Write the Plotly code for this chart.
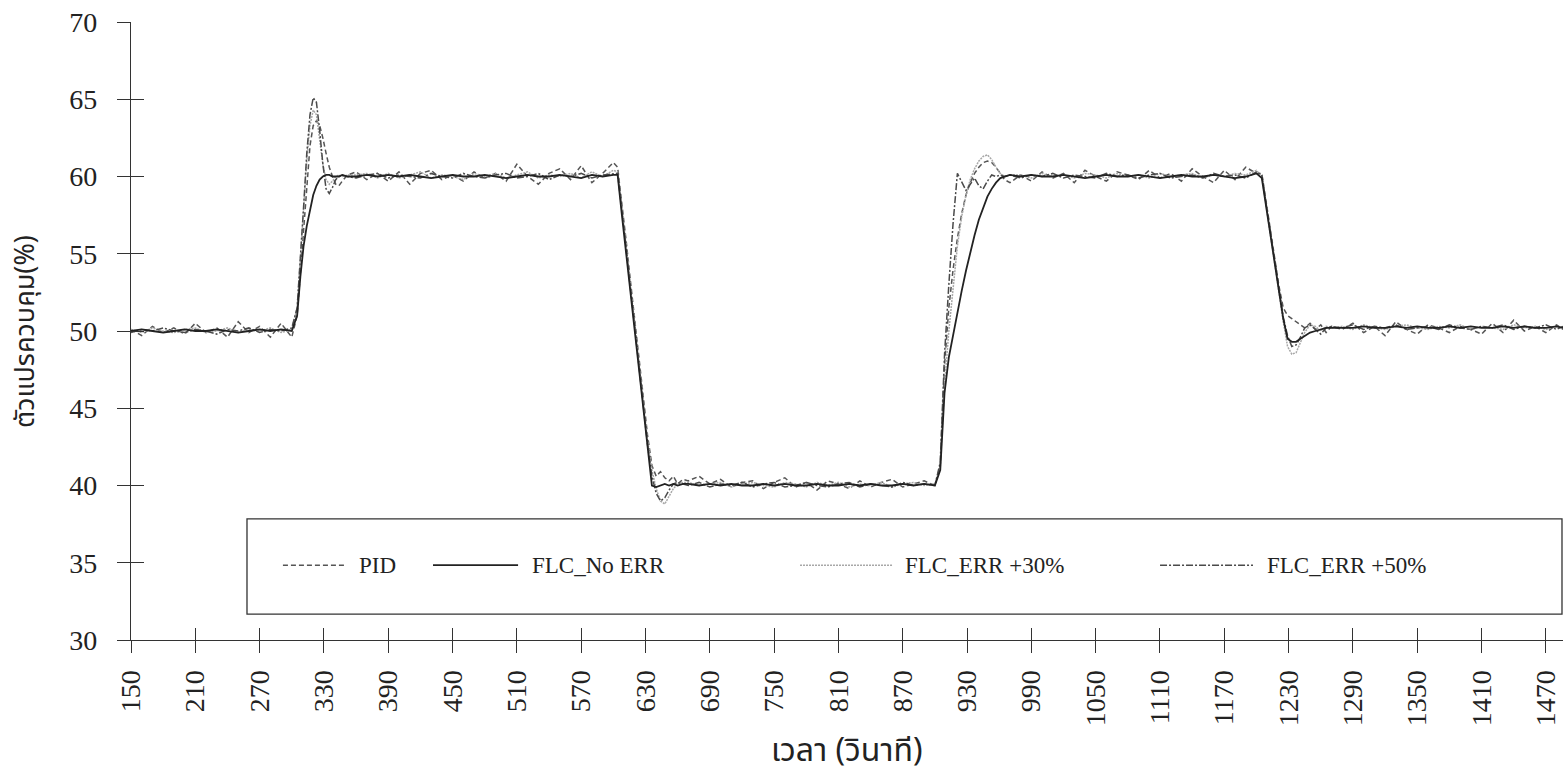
import plotly.graph_objects as go

# Time axis (seconds): coarse while holding a setpoint, finer around each step change
t_sec = [
    150, 160, 170, 180, 190, 200, 210, 220, 230, 240, 250, 260, 270, 280, 290, 300,
    305, 308, 311, 314, 317, 320, 323, 326, 329, 332, 335, 338, 341, 344, 347, 352,
    360, 370, 380, 390, 400, 410, 420, 430, 440, 450, 460, 470, 480, 490, 500, 510,
    520, 530, 540, 550, 560, 570, 580, 590, 600,
    604, 608, 612, 616, 620, 624, 628, 632, 636, 640, 644, 648, 652, 656, 660, 665,
    670, 680, 690, 700, 710, 720, 730, 740, 750, 760, 770, 780, 790, 800, 810, 820,
    830, 840, 850, 860, 870, 880, 890, 900,
    905, 909, 913, 917, 921, 925, 929, 933, 937, 941, 945, 949, 953, 957, 961, 965, 970,
    980, 990, 1000, 1010, 1020, 1030, 1040, 1050, 1060, 1070, 1080, 1090, 1100, 1110,
    1120, 1130, 1140, 1150, 1160, 1170, 1180, 1190, 1200,
    1205, 1209, 1213, 1217, 1221, 1225, 1229, 1233, 1237, 1241, 1245, 1250, 1255, 1260,
    1265, 1270,
    1280, 1290, 1300, 1310, 1320, 1330, 1340, 1350, 1360, 1370, 1380, 1390, 1400, 1410,
    1420, 1430, 1440, 1450, 1460, 1470, 1480, 1486,
]

pid = [
    50.1, 49.7, 50.3, 49.9, 50.2, 49.8, 50.5, 49.9, 50.2, 49.6, 50.6, 49.9, 50.3, 49.6, 50.5, 49.6,
    51.0, 53.8, 56.8, 59.8, 62.0, 63.3, 63.6, 63.3, 62.5, 61.5, 60.6, 60.0, 59.5, 59.4, 59.7, 60.1,
    60.3, 59.8, 60.2, 59.7, 60.3, 59.5, 60.2, 60.4, 59.8, 60.1, 59.7, 60.3, 59.9, 60.2, 59.7, 60.8,
    60.0, 59.5, 60.2, 60.5, 59.8, 60.7, 59.6, 60.2, 60.9,
    60.6, 58.3, 55.8, 53.2, 50.7, 48.1, 45.6, 43.2, 41.3, 40.6, 40.9, 40.5, 40.3, 40.6, 40.1, 40.4,
    40.3, 40.6, 40.1, 40.4, 39.9, 40.2, 40.3, 39.8, 40.2, 40.5, 39.9, 40.2, 39.7, 40.3, 40.1, 39.8,
    40.3, 39.9, 40.2, 40.4, 39.9, 40.1, 40.3, 40.0,
    41.3, 47.8, 51.5, 54.0, 56.0, 57.6, 58.8, 59.6, 60.2, 60.6, 60.9, 61.0, 60.9, 60.6, 60.2, 59.8, 59.6,
    60.1, 59.7, 60.3, 59.9, 60.2, 59.6, 60.4, 60.0, 59.7, 60.3, 60.1, 59.8, 60.4, 59.9,
    60.2, 59.7, 60.5, 60.0, 59.6, 60.4, 59.8, 60.6, 60.2,
    60.2, 58.3, 56.5, 54.7, 52.9, 51.5, 51.0, 50.8, 50.6, 50.4, 50.2, 50.5, 50.1, 50.4,
    49.9, 50.3,
    50.1, 50.5, 49.9, 50.3, 49.7, 50.6, 50.1, 49.8, 50.4, 50.2, 49.9, 50.3, 50.1, 49.8,
    50.5, 49.9, 50.7, 50.0, 50.3, 49.9, 50.4, 50.1,
]

flc_no_err = [
    50.0, 50.1, 50.0, 49.9, 50.0, 50.1, 50.0, 50.0, 50.1, 50.0, 49.9, 50.0, 50.1, 50.0, 50.1, 50.0,
    51.0, 53.5, 55.5, 56.8, 57.9, 58.8, 59.4, 59.8, 60.0, 60.1, 60.1, 60.0, 60.0, 60.0, 60.1, 60.0,
    60.0, 60.1, 60.0, 60.1, 60.0, 60.1, 60.0, 59.9, 60.0, 60.1, 60.0, 60.0, 60.1, 60.0, 59.9, 60.0,
    60.1, 60.0, 60.0, 60.1, 60.0, 59.9, 60.1, 60.0, 60.1,
    60.1, 57.5, 55.0, 52.4, 49.8, 47.3, 44.7, 42.2, 40.0, 39.9, 40.0, 40.1, 40.0, 40.1, 40.0, 40.1,
    40.1, 40.0, 40.1, 40.0, 40.1, 40.0, 40.0, 40.1, 40.0, 40.1, 40.0, 40.0, 40.1, 40.0, 40.0, 40.1,
    40.0, 40.1, 40.0, 40.0, 40.1, 40.0, 40.1, 40.0,
    41.0, 46.0, 48.3, 49.8, 51.2, 52.6, 53.9, 55.1, 56.2, 57.2, 58.0, 58.7, 59.2, 59.6, 59.9, 60.0, 60.1,
    60.0, 60.1, 60.0, 60.0, 60.1, 60.0, 59.9, 60.0, 60.1, 60.0, 60.0, 60.1, 60.0, 59.9,
    60.0, 60.1, 60.0, 60.0, 60.1, 60.0, 59.9, 60.0, 60.2,
    59.9, 58.0, 56.2, 54.4, 52.6, 50.8, 49.5, 49.3, 49.3, 49.5, 49.7, 49.9, 50.0, 50.1,
    50.2, 50.2,
    50.2, 50.2, 50.3, 50.2, 50.2, 50.3, 50.2, 50.3, 50.2, 50.2, 50.3, 50.2, 50.3, 50.2,
    50.2, 50.3, 50.2, 50.3, 50.2, 50.2, 50.3, 50.2,
]

flc_err_30 = [
    50.1, 49.9, 50.2, 50.0, 49.9, 50.1, 50.2, 49.9, 50.0, 50.2, 49.9, 50.1, 50.0, 50.2, 49.9, 50.1,
    51.5, 54.5, 58.0, 61.0, 63.3, 64.3, 64.0, 62.5, 60.8, 59.8, 59.5, 59.7, 60.0, 60.1, 60.0, 60.1,
    60.1, 60.2, 59.9, 60.2, 59.9, 60.1, 60.3, 59.9, 60.1, 60.0, 59.8, 60.2, 60.0, 60.2, 59.9, 60.1,
    60.3, 59.9, 60.1, 60.0, 60.2, 59.9, 60.3, 60.0, 60.4,
    60.3, 58.0, 55.5, 52.9, 50.4, 47.8, 45.3, 42.9, 41.0, 39.8, 39.0, 38.8, 39.3, 39.8, 40.1, 40.2,
    40.2, 40.0, 40.1, 40.2, 39.9, 40.1, 40.2, 40.0, 39.9, 40.2, 40.1, 39.9, 40.2, 40.0, 40.2, 39.9,
    40.1, 40.0, 40.2, 39.9, 40.1, 40.2, 40.0, 40.1,
    41.2, 46.5, 50.0, 53.0, 55.5, 57.4, 58.8, 59.8, 60.5, 61.0, 61.3, 61.4, 61.1, 60.6, 60.2, 60.0, 60.1,
    60.1, 59.9, 60.2, 60.0, 60.1, 59.9, 60.2, 60.1, 59.9, 60.2, 60.0, 60.1, 59.9, 60.2,
    60.0, 60.1, 60.2, 59.9, 60.1, 60.0, 60.2, 60.1, 60.4,
    60.0, 58.1, 56.3, 54.5, 52.7, 50.6, 49.0, 48.5, 48.6, 49.2, 49.9, 50.4, 50.3, 50.0,
    50.3, 50.2,
    50.3, 50.1, 50.4, 50.2, 50.1, 50.3, 50.4, 50.2, 50.1, 50.3, 50.2, 50.4, 50.1, 50.3,
    50.2, 50.1, 50.4, 50.2, 50.3, 50.1, 50.3, 50.2,
]

flc_err_50 = [
    49.9, 50.1, 50.0, 50.2, 50.0, 49.9, 50.1, 50.0, 49.8, 50.1, 50.0, 50.2, 49.9, 50.1, 50.0, 50.2,
    51.5, 54.5, 58.0, 61.5, 64.0, 65.1, 64.8, 63.0, 60.8, 59.2, 58.9, 59.3, 59.8, 60.0, 60.1, 60.0,
    59.9, 60.1, 60.2, 59.9, 60.1, 60.0, 59.9, 60.2, 60.0, 59.9, 60.2, 60.0, 59.9, 60.1, 60.2, 59.9,
    60.0, 60.2, 59.8, 60.1, 60.0, 60.2, 59.9, 60.1, 60.2,
    60.2, 57.8, 55.3, 52.7, 50.2, 47.6, 45.1, 42.6, 40.6, 39.5, 39.0, 39.2, 39.7, 40.1, 40.2, 40.1,
    40.0, 40.2, 39.9, 40.1, 40.0, 40.2, 39.9, 40.1, 40.2, 39.9, 40.0, 40.2, 40.0, 39.9, 40.1, 40.2,
    39.9, 40.1, 40.0, 39.9, 40.2, 40.0, 40.1, 40.0,
    41.5, 48.5, 53.0, 57.0, 60.2, 59.6, 59.1, 59.5, 59.9, 59.4, 59.2, 59.7, 60.1, 60.0, 60.1, 60.0, 60.1,
    59.9, 60.1, 60.0, 60.2, 59.9, 60.1, 60.0, 59.9, 60.2, 60.0, 60.1, 59.9, 60.1, 60.2,
    59.9, 60.0, 60.1, 59.9, 60.2, 60.0, 60.1, 59.9, 60.3,
    60.1, 58.2, 56.3, 54.5, 52.6, 50.9, 49.7, 49.0, 49.1, 49.6, 50.2, 50.4, 50.1, 49.8,
    50.2, 50.3,
    50.2, 50.4, 50.1, 50.3, 50.2, 50.4, 50.1, 50.2, 50.3, 50.1, 50.4, 50.2, 50.1, 50.3,
    50.2, 50.4, 50.1, 50.3, 50.2, 50.4, 50.1, 50.3,
]

series_names = ["PID", "FLC_No ERR", "FLC_ERR +30%", "FLC_ERR +50%"]
x_ticks = list(range(150, 1471, 60))
y_ticks = list(range(30, 71, 5))

SERIF = "Liberation Serif, Times New Roman, serif"
THAI = "Noto Sans Thai, Loma, Garuda, Tlwg Typo, Noto Sans, sans-serif"

styles = {
    "PID": dict(color="#555555", width=1.5, dash="5px,3px"),
    "FLC_No ERR": dict(color="#222222", width=1.8, dash="solid"),
    "FLC_ERR +30%": dict(color="#a8a8a8", width=1.5, dash="2px,1px"),
    "FLC_ERR +50%": dict(color="#4a4a4a", width=1.5, dash="7px,2px,2px,2px"),
}
values = {
    "PID": pid,
    "FLC_No ERR": flc_no_err,
    "FLC_ERR +30%": flc_err_30,
    "FLC_ERR +50%": flc_err_50,
}

fig = go.Figure()
# drawing order: dashed PID underneath, solid FLC on top
for name in ["PID", "FLC_ERR +30%", "FLC_ERR +50%", "FLC_No ERR"]:
    fig.add_trace(go.Scatter(
        x=t_sec, y=values[name], mode="lines", name=name,
        line=dict(**styles[name]), showlegend=False,
    ))

# empty trace so the overlay axes (inner half of the crossing ticks) are drawn
fig.add_trace(go.Scatter(x=[], y=[], xaxis="x2", yaxis="y2",
                         showlegend=False, hoverinfo="skip"))

x_range = [150, 1486]
y_range = [30, 70]
axis_col = "#333333"

fig.update_layout(
    width=1565, height=779,
    margin=dict(l=131, r=2, t=22, b=139),
    paper_bgcolor="white", plot_bgcolor="white",
    xaxis=dict(
        range=x_range, tickmode="array", tickvals=x_ticks,
        ticktext=[str(v) for v in x_ticks], tickangle=-90,
        ticks="outside", ticklen=12, tickwidth=1.3, tickcolor=axis_col,
        showline=True, linecolor=axis_col, linewidth=1.3,
        showgrid=False, zeroline=False,
        tickfont=dict(family=SERIF, size=28, color="#222"),
        ticklabelstandoff=6,
    ),
    yaxis=dict(
        range=y_range, tickmode="array", tickvals=y_ticks,
        ticks="outside", ticklen=13, tickwidth=1.3, tickcolor=axis_col,
        showline=True, linecolor=axis_col, linewidth=1.3,
        showgrid=False, zeroline=False,
        tickfont=dict(family=SERIF, size=28, color="#222"),
        ticklabelstandoff=14,
    ),
    xaxis2=dict(
        range=x_range, overlaying="x", anchor="y2", tickmode="array", tickvals=x_ticks,
        ticks="inside", ticklen=12, tickwidth=1.3, tickcolor=axis_col,
        showticklabels=False, showline=False, showgrid=False, zeroline=False,
    ),
    yaxis2=dict(
        range=y_range, overlaying="y", anchor="x2", side="left", tickmode="array",
        tickvals=y_ticks, ticks="inside", ticklen=13, tickwidth=1.3, tickcolor=axis_col,
        showticklabels=False, showline=False, showgrid=False, zeroline=False,
    ),
    showlegend=False,
)

# legend frame inside the plot area
shapes = [dict(type="rect", xref="paper", yref="paper",
               x0=0.081, x1=0.9993, y0=0.042, y1=0.196,
               line=dict(color="#333", width=1.3), fillcolor="white", layer="above")]
legend_y = 0.121
legend_items = [
    ("PID", 0.1061, 0.1494, 0.1578),
    ("FLC_No ERR", 0.2109, 0.2703, 0.2786),
    ("FLC_ERR +30%", 0.4672, 0.5321, 0.5391),
    ("FLC_ERR +50%", 0.7186, 0.7835, 0.7919),
]
annotations = []
for name, xs0, xs1, xt in legend_items:
    st = styles[name]
    shapes.append(dict(type="line", xref="paper", yref="paper",
                       x0=xs0, x1=xs1, y0=legend_y, y1=legend_y, layer="above",
                       line=dict(color=st["color"], width=st["width"], dash=st["dash"])))
    annotations.append(dict(text=name, xref="paper", yref="paper", x=xt, y=legend_y,
                            xanchor="left", yanchor="middle", showarrow=False,
                            font=dict(family=SERIF, size=23, color="#222")))

# axis titles
annotations.append(dict(text="เวลา (วินาที)", xref="paper", yref="paper",
                        x=0.5, y=-(751 - 640) / 618, xanchor="center", yanchor="middle",
                        showarrow=False, font=dict(family=THAI, size=32, color="#222")))
annotations.append(dict(text="ตัวแปรควบคุม(%)", xref="paper", yref="paper",
                        x=-(131 - 25) / 1432, y=0.5, xanchor="center", yanchor="middle",
                        textangle=-90, showarrow=False,
                        font=dict(family=THAI, size=27, color="#222")))

fig.update_layout(shapes=shapes, annotations=annotations)

fig.write_html("out.html")
